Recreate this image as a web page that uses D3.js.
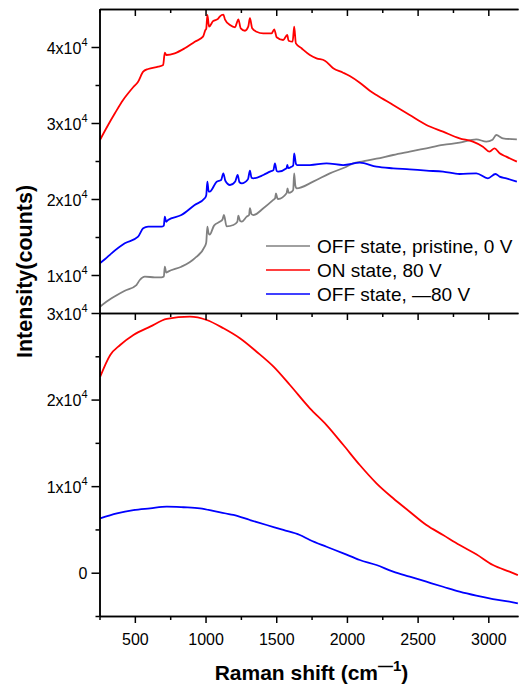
<!DOCTYPE html>
<html><head><meta charset="utf-8">
<script src="https://cdn.jsdelivr.net/npm/d3@7/dist/d3.min.js"></script>
<style>
body{margin:0;background:#fff}
svg{display:block}
text{font-family:Arial,"Liberation Sans",Helvetica,sans-serif;fill:#000}
</style>
</head><body>
<svg id="chart" width="520" height="689"></svg>
<script>
// ---------- DATA ----------
const seriesNames  = ["OFF state, pristine, 0 V", "ON state, 80 V", "OFF state, \u201480 V"];
const seriesColors = ["#808080", "#ff0000", "#0000ff"];

const xMajorTicks = [500, 1000, 1500, 2000, 2500, 3000];
const xMinorTicks = [250, 750, 1250, 1750, 2250, 2750];
const topMajorTicks = [10000, 20000, 30000, 40000];
const topMinorTicks = [15000, 25000, 35000];
const botMajorTicks = [0, 10000, 20000, 30000];
const botMinorTicks = [-5000, 5000, 15000, 25000];

// Top panel: OFF state, pristine, 0 V (gray)
const topGrayX = [253,335,429,511,535,570,640,688,705,712,722,735,829,923,994,1005,1013,1020,1029,1060,1100,1120,1130,1149,1197,1225,1232,1245,1256,1291,1308,1314,1325,1338,1409,1479,1492,1498,1508,1514,1573,1580,1588,1609,1620,1627,1635,1644,1761,1879,1997,2044,2114,2209,2327,2444,2562,2680,2797,2915,2986,3030,3056,3103,3202];
const topGrayY = [5830,6930,7930,8680,9340,9780,9700,9690,9800,11090,10300,10440,11090,12190,13720,14300,16360,15600,15300,16500,17000,17300,17900,16400,16580,17000,17810,17100,17020,17680,17900,18780,18000,17890,18780,19880,20100,20750,20100,20000,20750,21400,20800,20960,21200,23380,21800,21400,22280,23380,24250,24690,24950,25300,25790,26230,26670,27110,27410,27850,27550,27800,28420,27990,27850];

// Top panel: ON state, 80 V (red)
const topRedX = [253,311,359,417,453,488,523,559,594,665,700,712,723,782,853,924,982,999,1005,1013,1025,1053,1088,1102,1126,1138,1173,1209,1220,1232,1249,1279,1302,1314,1330,1361,1408,1467,1486,1503,1549,1578,1587,1616,1627,1639,1679,1738,1785,1844,1903,1973,2020,2091,2162,2209,2327,2444,2562,2680,2797,2891,2962,3009,3044,3080,3127,3202];
const topRedY = [27760,29740,31280,33030,33910,34700,35430,36750,37110,37410,37630,39250,38950,39170,39830,40700,41360,42240,42400,44210,42670,43400,43700,44030,44250,43600,42890,42590,43110,43640,42460,42140,42670,43780,42460,42010,41800,41800,42330,41280,40920,41580,40830,40700,42670,40480,39830,38950,38510,38200,37200,36620,36180,35300,34250,33680,32370,31050,29740,28860,27990,27550,26890,26230,26670,26010,25570,24910];

// Top panel: OFF state, -80 V (blue)
const topBlueX = [253,290,335,429,523,559,594,688,705,712,722,735,829,923,994,1005,1013,1022,1029,1079,1110,1126,1140,1173,1210,1227,1240,1256,1300,1314,1325,1338,1409,1456,1480,1491,1503,1514,1573,1578,1585,1609,1620,1627,1640,1648,1738,1856,1973,2091,2209,2327,2444,2562,2680,2797,2915,2997,3051,3080,3127,3202];
const topBlueY = [11540,12100,12850,14170,15040,16140,16360,16360,16500,17680,17000,17240,17890,19210,20090,20500,22280,21000,20960,22280,22500,23380,22400,21840,22300,23160,22200,22060,22600,23730,22800,22720,23160,23600,23800,24690,23700,23600,24040,24500,24050,24250,24400,26010,24600,24470,24470,24690,24470,24780,24250,24040,23900,23730,23600,23290,23380,22720,23290,22940,22720,22280];

// Bottom panel: ON state, 80 V (red)
const botRedX = [255,326,396,490,608,726,890,1008,1127,1243,1361,1481,1597,1738,1856,1975,2091,2209,2327,2444,2562,2680,2797,2915,3033,3150,3209];
const botRedY = [22640,25150,26300,27460,28420,29310,29570,29190,28230,27080,25530,23800,21680,18990,17060,14750,12440,10330,8600,7050,5510,4360,3200,2130,890,120,-270];

// Bottom panel: OFF state, -80 V (blue)
const botBlueX = [255,373,490,608,726,844,961,1079,1197,1314,1432,1550,1667,1738,1856,1975,2091,2209,2327,2444,2562,2680,2797,2915,3033,3150,3209];
const botBlueY = [6280,6860,7240,7440,7630,7560,7440,7050,6670,6090,5510,4940,4360,3780,3000,2240,1470,890,120,-460,-1040,-1620,-2190,-2650,-3040,-3350,-3540];

// ---------- LAYOUT ----------
const svg = d3.select("#chart");
const L = 99.5, R = 518;
const topY0 = 9, midY = 313, botY1 = 616;

const x = d3.scaleLinear().domain([250, 3210]).range([L, R]);
const yTop = d3.scaleLinear().domain([5000, 45000]).range([midY, topY0]);
const yBot = d3.scaleLinear().domain([-5000, 30000]).range([botY1, midY]);

const axisStroke = 1.5;

function styleAxis(g) {
  g.selectAll("path.domain").attr("stroke", "#000").attr("stroke-width", axisStroke);
  g.selectAll(".tick line").attr("stroke", "#000").attr("stroke-width", axisStroke);
}

function sciLabels(g) {
  g.selectAll(".tick text").each(function(d) {
    const t = d3.select(this);
    t.text(null).attr("font-size", 16).attr("font-family", "Arial, 'Liberation Sans', sans-serif").attr("dy", "0.38em").attr("x", -12);
    if (d === 0) { t.text("0"); return; }
    t.append("tspan").text((d / 10000) + "x10");
    t.append("tspan").text("4").attr("font-size", 11).attr("dy", -8);
  });
}

// Clip paths
const defs = svg.append("defs");
defs.append("clipPath").attr("id", "clipTop").append("rect")
  .attr("x", L).attr("y", topY0).attr("width", R - L + 2).attr("height", midY - topY0);
defs.append("clipPath").attr("id", "clipBot").append("rect")
  .attr("x", L).attr("y", midY).attr("width", R - L + 2).attr("height", botY1 - midY);

// ---------- SERIES ----------
function drawSeries(xs, ys, yScale, color, clip) {
  const pts = xs.map((v, i) => [v, ys[i]]);
  svg.append("path")
    .datum(pts)
    .attr("clip-path", "url(#" + clip + ")")
    .attr("fill", "none")
    .attr("stroke", color)
    .attr("stroke-width", 1.8)
    .attr("stroke-linejoin", "round")
    .attr("d", d3.line().curve(d3.curveMonotoneX).x(d => x(d[0])).y(d => yScale(d[1])));
}
drawSeries(topGrayX, topGrayY, yTop, seriesColors[0], "clipTop");
drawSeries(topRedX, topRedY, yTop, seriesColors[1], "clipTop");
drawSeries(topBlueX, topBlueY, yTop, seriesColors[2], "clipTop");
drawSeries(botRedX, botRedY, yBot, seriesColors[1], "clipBot");
drawSeries(botBlueX, botBlueY, yBot, seriesColors[2], "clipBot");

// ---------- AXES ----------
const gLT = svg.append("g").attr("transform", `translate(${L},0)`)
  .call(d3.axisLeft(yTop).tickValues(topMajorTicks).tickSize(8).tickSizeOuter(0));
sciLabels(gLT); styleAxis(gLT);
const gLTm = svg.append("g").attr("transform", `translate(${L},0)`)
  .call(d3.axisLeft(yTop).tickValues(topMinorTicks).tickSize(4).tickSizeOuter(0).tickFormat(""));
styleAxis(gLTm);

const gLB = svg.append("g").attr("transform", `translate(${L},0)`)
  .call(d3.axisLeft(yBot).tickValues(botMajorTicks).tickSize(8).tickSizeOuter(0));
sciLabels(gLB); styleAxis(gLB);
const gLBm = svg.append("g").attr("transform", `translate(${L},0)`)
  .call(d3.axisLeft(yBot).tickValues(botMinorTicks).tickSize(4).tickSizeOuter(0).tickFormat(""));
styleAxis(gLBm);

function hAxis(yPos, withLabels) {
  const g = svg.append("g").attr("transform", `translate(0,${yPos})`)
    .call(d3.axisBottom(x).tickValues(xMajorTicks).tickSize(7).tickSizeOuter(0)
      .tickFormat(withLabels ? d3.format("d") : ""));
  styleAxis(g);
  const gm = svg.append("g").attr("transform", `translate(0,${yPos})`)
    .call(d3.axisBottom(x).tickValues(xMinorTicks).tickSize(4).tickSizeOuter(0).tickFormat(""));
  styleAxis(gm);
  if (withLabels) {
    g.selectAll(".tick text").attr("font-size", 16)
      .attr("font-family", "Arial, 'Liberation Sans', sans-serif")
      .attr("y", 29).attr("dy", 0);
  }
  return g;
}
hAxis(topY0, false);
hAxis(midY, false);
hAxis(botY1, true);

// ---------- TITLES ----------
const xt = svg.append("text").attr("x", 311.5).attr("y", 680)
  .attr("text-anchor", "middle").attr("font-weight", "bold").attr("font-size", 21);
xt.append("tspan").text("Raman shift (cm");
xt.append("tspan").text("\u20141").attr("font-size", 15).attr("dy", -9);
xt.append("tspan").text(")").attr("dy", 9);

svg.append("text")
  .attr("transform", "translate(32,271.5) rotate(-90)")
  .attr("text-anchor", "middle").attr("font-weight", "bold").attr("font-size", 21.5)
  .text("Intensity(counts)");

// ---------- LEGEND ----------
const legendRows = [246, 270, 294];
const lg = svg.append("g");
seriesNames.forEach((name, i) => {
  lg.append("line").attr("x1", 266).attr("x2", 310)
    .attr("y1", legendRows[i]).attr("y2", legendRows[i])
    .attr("stroke", seriesColors[i]).attr("stroke-width", 1.5);
  lg.append("text").attr("x", 317).attr("y", legendRows[i]).attr("dy", "0.36em")
    .attr("font-size", 19).text(name);
});
</script>
</body></html>
